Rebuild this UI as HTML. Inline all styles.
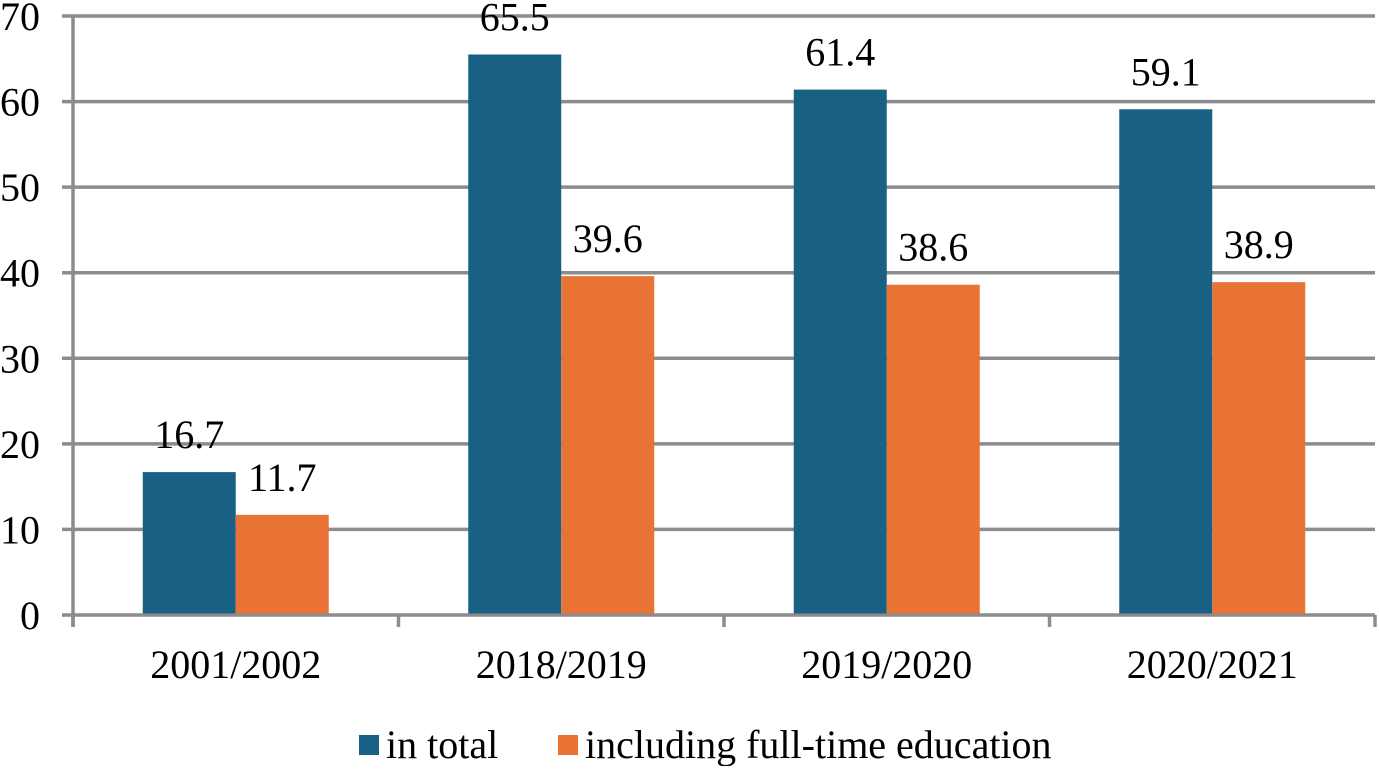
<!DOCTYPE html>
<html><head><meta charset="utf-8"><style>
html,body{margin:0;padding:0;background:#fff}
svg text{font-family:"Liberation Serif",serif;fill:#000}
</style></head><body>
<svg width="1379" height="766" id="c"></svg>
<script>
const categories=["2001/2002","2018/2019","2019/2020","2020/2021"];
const totalValues=[16.7,65.5,61.4,59.1];
const fullTimeValues=[11.7,39.6,38.6,38.9];
const yTicks=[0,10,20,30,40,50,60,70];
const seriesNames=["in total","including full-time education"];
const colors=["#186184","#e97334"];
const NS="http://www.w3.org/2000/svg";
const svg=document.getElementById('c');
const x0=73,x1=1375,yZero=615,yTop=16;
const y=v=>yZero-(v/70)*(yZero-yTop);
const cw=(x1-x0)/categories.length;
function el(t,a,p){const e=document.createElementNS(NS,t);for(const k in a)e.setAttribute(k,a[k]);(p||svg).appendChild(e);return e;}
const grid=el('g',{});


yTicks.forEach(v=>{
  const l=el('line',{x1:62,x2:x1,y1:y(v),y2:y(v),stroke:'#8c8c8c','stroke-width':3.5},grid);
  
  
  const t=el('text',{x:40,y:y(v)+14,'text-anchor':'end','font-size':40});
  t.textContent=v;
  
  
});
const ax=el('line',{x1:x0,x2:x0,y1:yTop,y2:627,stroke:'#8c8c8c','stroke-width':3.5});


for(let i=0;i<=categories.length;i++){
  const tk=el('line',{x1:x0+i*cw,x2:x0+i*cw,y1:yZero,y2:627,stroke:'#8c8c8c','stroke-width':3.5});
  
  
}
const bw=93;
categories.forEach((c,i)=>{
  const cx=x0+cw*(i+0.5);
  [totalValues[i],fullTimeValues[i]].forEach((v,s)=>{
    const bx=cx-bw+s*bw;
    const r=el('rect',{x:bx,y:y(v),width:bw,height:yZero-1.5-y(v),fill:colors[s]});
    
    
    const t=el('text',{x:bx+bw/2,y:y(v)-24,'text-anchor':'middle','font-size':40});
    t.textContent=v.toFixed(1);
    
    
  });
  const t=el('text',{x:cx,y:678,'text-anchor':'middle','font-size':40});
  t.textContent=c;
  
  
});
const lg=el('g',{});


const lx=[359,558];
seriesNames.forEach((n,s)=>{
  const r=el('rect',{x:lx[s],y:735,width:20,height:20,fill:colors[s]},lg);
  
  
  const t=el('text',{x:lx[s]+27,y:758,'font-size':40},lg);
  t.textContent=n;
  
  
});
</script>
</body></html>
